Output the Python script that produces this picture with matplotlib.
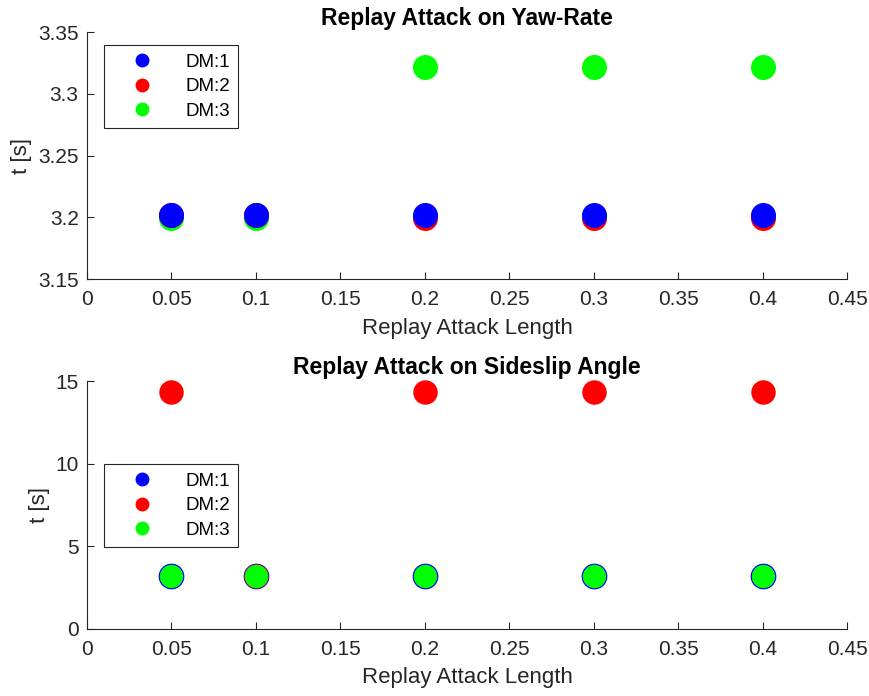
import numpy as np
import matplotlib.pyplot as plt

plt.rcParams['font.family'] = ['Liberation Sans', 'DejaVu Sans']

attack_len = [0.05, 0.1, 0.2, 0.3, 0.4]

# detection times, yaw-rate attack
yaw_dm1 = [3.2015, 3.2015, 3.2015, 3.2015, 3.2015]
yaw_dm2 = [3.2015, 3.2015, 3.1995, 3.1995, 3.1995]
yaw_dm3 = [3.1995, 3.1995, 3.322, 3.322, 3.322]

# detection times, sideslip attack
ss_dm1 = [3.2, 3.2, 3.2, 3.2, 3.2]
ss_dm2 = [14.35, 3.2, 14.35, 14.35, 14.35]
ss_dm3 = [3.2, 3.2, 3.2, 3.2, 3.2]

labels = ['DM:1', 'DM:2', 'DM:3']
colors = ['#0000ff', '#ff0000', '#00ff00']

fig = plt.figure(figsize=(8.69, 6.96), dpi=100)
ax1 = fig.add_axes([0.1001, 0.599, 0.8746, 0.355])
ax2 = fig.add_axes([0.1001, 0.0963, 0.8746, 0.356])

axc = '#262626'


def style(ax):
    for s in ['top', 'right']:
        ax.spines[s].set_visible(False)
    for s in ['left', 'bottom']:
        ax.spines[s].set_color(axc)
        ax.spines[s].set_linewidth(0.8)
    ax.tick_params(direction='in', length=5, width=0.8, colors=axc,
                   labelsize=15, pad=6)
    ax.tick_params(axis='x', pad=8)
    ax.set_xlim(0, 0.45)
    ax.set_xticks(np.arange(0, 0.451, 0.05))
    ax.set_xticklabels(['0', '0.05', '0.1', '0.15', '0.2', '0.25', '0.3',
                        '0.35', '0.4', '0.45'])
    ax.set_xlabel('Replay Attack Length', fontsize=16, color=axc, labelpad=6)
    ax.set_ylabel('t [s]', fontsize=16, color=axc, labelpad=4)


# top: blue drawn last
z_top = [3, 2, 1]
for ys, lab, c, z in zip([yaw_dm1, yaw_dm2, yaw_dm3], labels, colors, z_top):
    ax1.plot(attack_len, ys, 'o', color=c, ms=17, label=lab, zorder=z,
             clip_on=False)
style(ax1)
ax1.set_ylim(3.15, 3.35)
ax1.set_yticks([3.15, 3.2, 3.25, 3.3, 3.35])
ax1.set_yticklabels(['3.15', '3.2', '3.25', '3.3', '3.35'])
ax1.set_title('Replay Attack on Yaw-Rate', fontsize=16.5, fontweight='bold',
              color='#000000', pad=5)

# bottom: green drawn last
z_bot = [1, 2, 3]
ms_bot = [17.5, 16.6, 15.8]
for ys, lab, c, z, m in zip([ss_dm1, ss_dm2, ss_dm3], labels, colors, z_bot, ms_bot):
    ax2.plot(attack_len, ys, 'o', color=c, ms=m, label=lab, zorder=z,
             clip_on=False)
style(ax2)
ax2.set_ylim(0, 15)
ax2.set_yticks([0, 5, 10, 15])
ax2.set_title('Replay Attack on Sideslip Angle', fontsize=16.5,
              fontweight='bold', color='#000000', pad=5)

for ax, anchor in [(ax1, (0.022, 0.947)), (ax2, (0.022, 0.665))]:
    handles, labs = ax.get_legend_handles_labels()
    leg = ax.legend(handles, labs, loc='upper left', bbox_to_anchor=anchor,
                    borderaxespad=0, fontsize=13.5, fancybox=False,
                    framealpha=1, edgecolor=axc, borderpad=0.45,
                    labelspacing=0.4, handletextpad=0.75, handlelength=3.15)
    for h in leg.legend_handles:
        h.set_markersize(9)
    leg.get_frame().set_linewidth(0.8)

fig.savefig('out.png', dpi=100)
